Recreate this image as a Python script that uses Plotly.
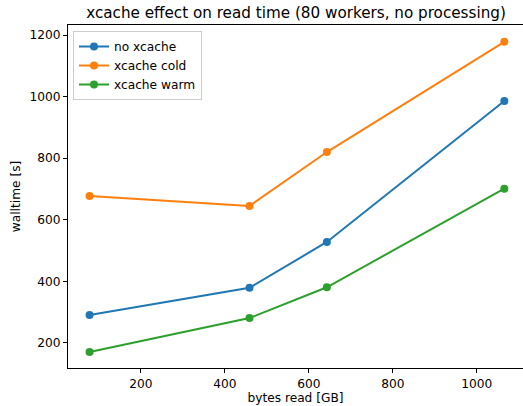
import plotly.graph_objects as go

bytes_read_gb = [77.6, 458.6, 642.9, 1065.7]
no_xcache = [291, 379, 528, 986]
xcache_cold = [677, 645, 820, 1178]
xcache_warm = [171, 281, 381, 701]

series = [
    ("no xcache", no_xcache, "#1f77b4"),
    ("xcache cold", xcache_cold, "#ff7f0e"),
    ("xcache warm", xcache_warm, "#2ca02c"),
]

FONT = "DejaVu Sans"
SMALL = 12.2
BIG = 15.2

fig = go.Figure()
for name, ys, color in series:
    fig.add_trace(go.Scatter(
        x=bytes_read_gb, y=ys, name=name, mode="lines+markers",
        line=dict(color=color, width=2),
        marker=dict(color=color, size=8, symbol="circle"),
    ))

fig.update_layout(
    width=523, height=406,
    margin=dict(l=68, r=0, t=25, b=38),
    paper_bgcolor="white", plot_bgcolor="white",
    font=dict(family=FONT, size=SMALL, color="black"),
    title=dict(text="xcache effect on read time (80 workers, no processing)",
               x=(296 / 523), xanchor="center", y=1 - 13 / 406, yanchor="middle",
               font=dict(family=FONT, size=BIG, color="black")),
    showlegend=True,
    legend=dict(x=0.011, y=0.9825, xanchor="left", yanchor="top",
                bgcolor="rgba(255,255,255,0.8)", bordercolor="#cccccc", borderwidth=1,
                font=dict(family=FONT, size=SMALL, color="black"),
                itemwidth=30, tracegroupgap=0),
    xaxis=dict(range=[26.2, 1110.2], showgrid=False, zeroline=False,
               showline=True, linecolor="black", linewidth=1, mirror=True,
               ticks="outside", ticklen=4, tickcolor="black",
               tickvals=[200, 400, 600, 800, 1000],
               title=dict(text="bytes read [GB]", standoff=3,
                          font=dict(family=FONT, size=SMALL))),
    yaxis=dict(range=[118.8, 1232.5], showgrid=False, zeroline=False,
               showline=True, linecolor="black", linewidth=1, mirror=False,
               ticks="outside", ticklen=4, tickcolor="black",
               tickvals=[200, 400, 600, 800, 1000, 1200],
               title=dict(text="walltime [s]", standoff=6,
                          font=dict(family=FONT, size=SMALL))),
)

fig.write_html("out.html")
